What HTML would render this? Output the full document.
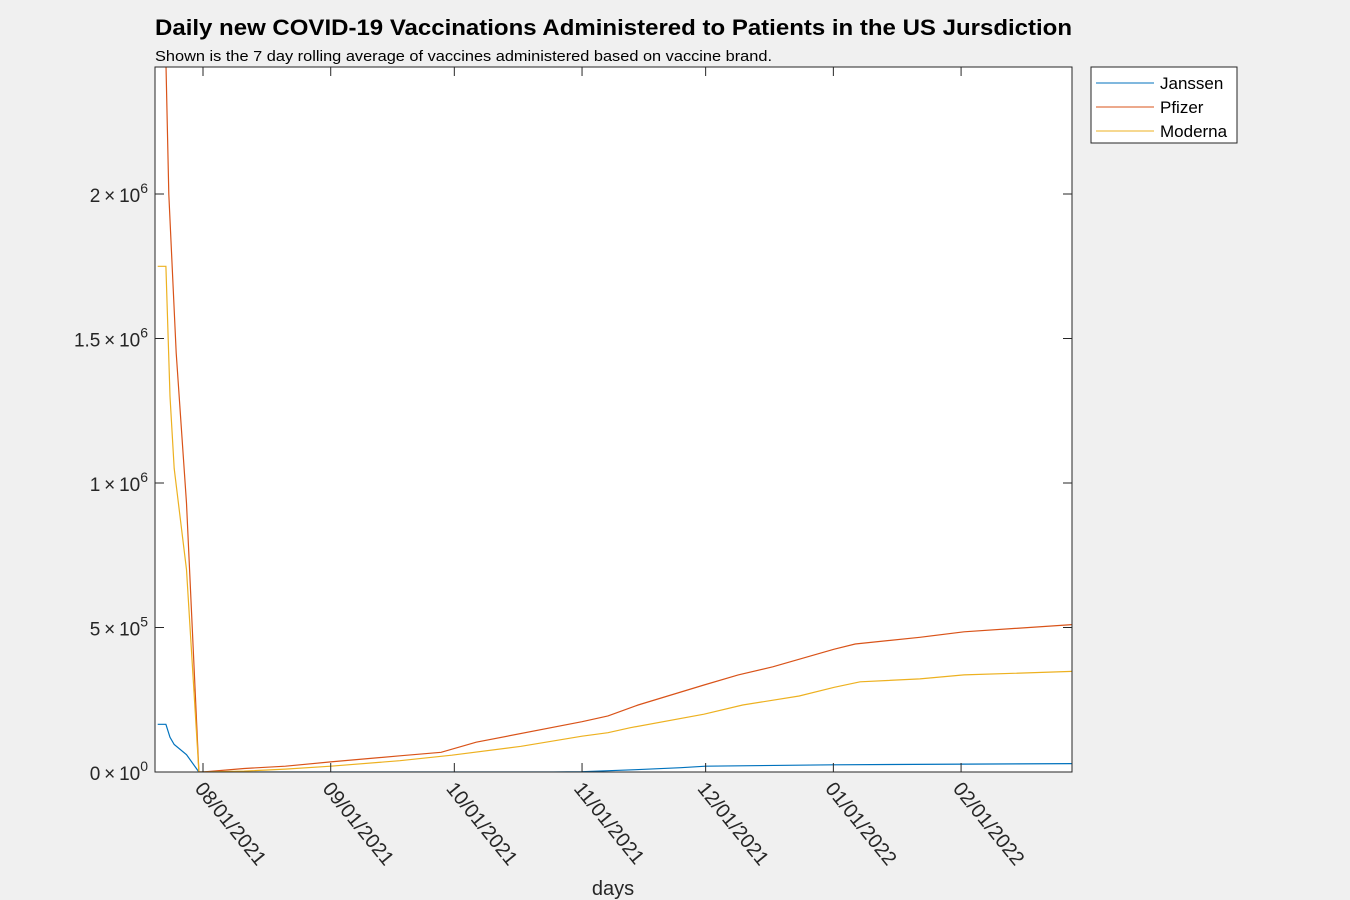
<!DOCTYPE html>
<html><head><meta charset="utf-8"><style>
body{margin:0;background:#f0f0f0;}
svg{display:block;font-family:"Liberation Sans",Arial,sans-serif;}
</style></head><body>
<svg id="chart" width="1350" height="900" viewBox="0 0 1350 900">
<rect width="1350" height="900" fill="#f0f0f0"/>
<text x="155" y="35" font-size="22" font-weight="bold" fill="#000" textLength="917" lengthAdjust="spacingAndGlyphs">Daily new COVID-19 Vaccinations Administered to Patients in the US Jursdiction</text>
<text x="155" y="61" font-size="15" fill="#000" textLength="617" lengthAdjust="spacingAndGlyphs">Shown is the 7 day rolling average of vaccines administered based on vaccine brand.</text>
<rect x="155" y="67" width="917" height="705" fill="#fff"/>
<defs><clipPath id="clip"><rect x="155" y="67" width="917" height="705"/></clipPath></defs>
<g id="series" clip-path="url(#clip)"></g>
<rect x="155" y="67" width="917" height="705" fill="none" stroke="#262626" stroke-width="1"/>
<g id="ticks"></g>
<text x="613" y="895" font-size="20" text-anchor="middle" fill="#262626">days</text>
<g>
<rect x="1091" y="67" width="146" height="76" fill="#fff" stroke="#262626" stroke-width="1"/>
<g><line x1="1096" y1="83" x2="1154" y2="83" stroke="#0072BD"/><text x="1160" y="89" font-size="17" fill="#000">Janssen</text></g>
<g><line x1="1096" y1="107" x2="1154" y2="107" stroke="#D95319"/><text x="1160" y="113" font-size="17" fill="#000">Pfizer</text></g>
<g><line x1="1096" y1="131" x2="1154" y2="131" stroke="#EDB120"/><text x="1160" y="137" font-size="17" fill="#000">Moderna</text></g>
</g>
</svg>
<script>
// days offset from 08/01/2021
const xTickLabels = ["08/01/2021","09/01/2021","10/01/2021","11/01/2021","12/01/2021","01/01/2022","02/01/2022"];
const xTickDays = [0,31,61,92,122,153,184];
const yTickValues = [0,500000,1000000,1500000,2000000];
const yTickMant = ["0","5","1","1.5","2"];
const yTickExp = ["0","5","6","6","6"];
const janssenDays = [-11,-9,-8,-7,-4,-1,0,20,60,85,92,105,116,122,153,211];
const janssenVals = [165000,165000,120000,95000,60000,0,0,0,0,0,1000,8000,15000,20000,25000,29000];
const pfizerDays = [-11,-9,-8.3,-6.5,-4,-1,0,10,20,31,47.8,57.8,66.3,92,98.3,105.6,121.6,129.9,138.3,153.2,158.3,174,184.7,211];
const pfizerVals = [2460000,2460000,2000000,1450000,930000,0,0,12000,20000,35000,56000,68000,103000,174000,194000,232000,301000,336000,364000,425000,443000,466000,485000,510000];
const modernaDays = [-11,-9,-8,-7,-4,-1,0,10,20,31,47.8,60.4,77.2,92,98.3,103.6,121.6,131,144.7,153.2,159.5,174,184.7,211];
const modernaVals = [1750000,1750000,1300000,1050000,700000,0,0,3000,10000,20000,39000,58000,89000,124000,136000,153000,200000,232000,263000,293000,312000,322000,336000,348000];

const NS="http://www.w3.org/2000/svg";
const X0=203, PXD=4.12, Y0=772, PXV=289/1e6;
const xs=d=>X0+d*PXD, ys=v=>Y0-v*PXV;
function mk(tag,attrs,parent){const e=document.createElementNS(NS,tag);for(const k in attrs)e.setAttribute(k,attrs[k]);parent.appendChild(e);return e;}
const ticks=document.getElementById('ticks'), series=document.getElementById('series');
xTickDays.forEach((d,i)=>{
  const x=xs(d);
  const t1=mk('line',{x1:x,y1:772,x2:x,y2:763,stroke:'#262626'},ticks);
  
  
  const t2=mk('line',{x1:x,y1:67,x2:x,y2:76,stroke:'#262626'},ticks);
  
  
  const lb=mk('text',{x:0,y:0,'font-size':20,fill:'#262626',transform:`translate(${x-9},${789}) rotate(51)`},ticks);
  lb.textContent=xTickLabels[i];
  
  
});
yTickValues.forEach((v,i)=>{
  const y=ys(v);
  const t1=mk('line',{x1:155,y1:y,x2:164,y2:y,stroke:'#262626'},ticks);
  
  
  const t2=mk('line',{x1:1072,y1:y,x2:1063,y2:y,stroke:'#262626'},ticks);
  
  
  const lb=mk('text',{x:148,y:y+8,'font-size':19,fill:'#262626','text-anchor':'end'},ticks);
  
  
  const a=mk('tspan',{},lb);a.textContent=yTickMant[i]+'\u2009\u00d7\u200910';
  const b=mk('tspan',{dy:-9,'font-size':14},lb);b.textContent=yTickExp[i];
});
function line(days,vals,color,name){
  const p=days.map((d,i)=>xs(d).toFixed(1)+','+ys(vals[i]).toFixed(1)).join(' ');
  const e=mk('polyline',{points:p,fill:'none',stroke:color,'stroke-width':1.2},series);
  
  
}
line(janssenDays,janssenVals,'#0072BD','janssen-line');
line(pfizerDays,pfizerVals,'#D95319','pfizer-line');
line(modernaDays,modernaVals,'#EDB120','moderna-line');
</script>
</body></html>
